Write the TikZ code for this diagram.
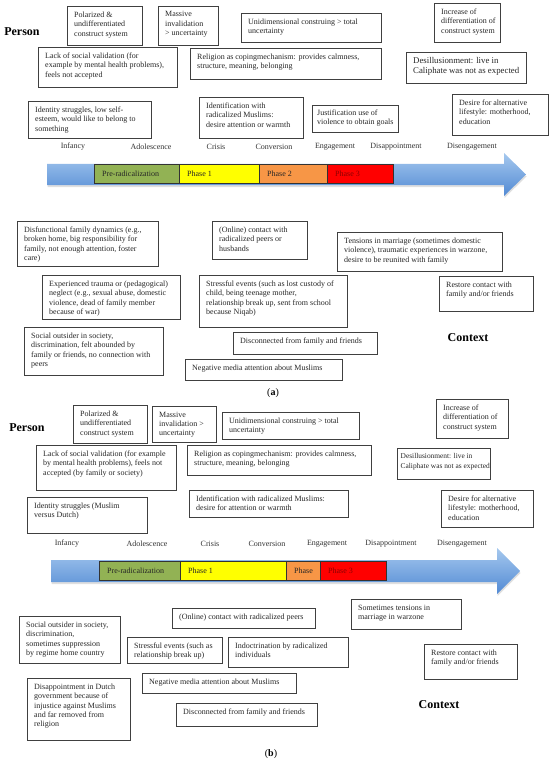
\documentclass[tikz,border=0pt]{standalone}
\usepackage{fontspec}
\setmainfont{Liberation Serif}
\usepackage{xcolor}
\usepackage{tikz}
\usetikzlibrary{shadows}

\definecolor{arrowtop}{RGB}{165,200,238}
\definecolor{arrowbot}{RGB}{82,138,212}
\definecolor{preg}{RGB}{146,178,84}
\definecolor{ph1}{RGB}{255,255,0}
\definecolor{ph2}{RGB}{247,150,70}
\definecolor{ph3}{RGB}{255,0,0}
\definecolor{ph3text}{RGB}{140,0,0}

\begin{document}
\begin{tikzpicture}[x=1pt,y=-1pt,
  cbox/.style={draw=black!75, line width=0.6pt, anchor=north west, inner sep=0pt},
  ctext/.style={anchor=north west, align=left, inner sep=0pt, xshift=7pt, yshift=-5.5pt,
    text=black!85, font=\fontsize{8}{9.4}\selectfont},
  phase/.style={draw=black!80, line width=0.6pt, anchor=north west, inner sep=0pt,
    minimum height=19pt},
  ptext/.style={anchor=west, inner sep=0pt, xshift=8pt, text=black!85,
    font=\fontsize{8}{9.4}\selectfont},
  stage/.style={text=black!80, font=\fontsize{8}{9.4}\selectfont},
  head/.style={font=\fontsize{12}{14}\selectfont\bfseries},
  captext/.style={font=\fontsize{10}{12}\selectfont},
  timeline/.style={top color=arrowtop, bottom color=arrowbot, draw=none,
    drop shadow={shadow xshift=0.5pt, shadow yshift=-2pt, opacity=0.25}}
]
\useasboundingbox (0,0) rectangle (550,762);

% (a)
\node[head] (persona) at (22,32) {Person};
\node[cbox, minimum width=75pt, minimum height=39pt, label={[ctext]north west:{Polarized \&\\undifferentiated\\construct system}}] (polar) at (67,6) {};
\node[cbox, minimum width=60pt, minimum height=39pt, label={[ctext]north west:{Massive\\invalidation\\> uncertainty}}] (massive) at (158,6) {};
\node[cbox, minimum width=140pt, minimum height=29pt, label={[ctext]north west:{Unidimensional construing > total\\uncertainty}}] (unidim) at (241,13) {};
\node[cbox, minimum width=139pt, minimum height=40pt, label={[ctext]north west:{Lack of social validation (for\\example by mental health problems),\\feels not accepted}}] (lack) at (38,47) {};
\node[cbox, minimum width=191pt, minimum height=31pt, label={[ctext]north west:{Religion as copingmechanism: provides calmness,\\structure, meaning, belonging}}] (relig) at (190,48) {};
\node[cbox, minimum width=123pt, minimum height=37pt, label={[ctext]north west:{Identity struggles, low self-\\esteem, would like to belong to\\something}}] (ident) at (28,101) {};
\node[cbox, minimum width=104pt, minimum height=41pt, label={[ctext]north west:{Identification with\\radicalized Muslims:\\desire attention or warmth}}] (identif) at (199,97) {};
\node[cbox, minimum width=86pt, minimum height=27pt, label={[ctext, xshift=-2pt, yshift=1pt]north west:{Justification use of\\violence to obtain goals}}] (justif) at (312,105) {};
\node[cbox, minimum width=66pt, minimum height=39pt, label={[ctext]north west:{Increase of\\differentiation of\\construct system}}] (incr) at (434,3) {};
\node[cbox, minimum width=120pt, minimum height=31pt, label={[ctext, font=\fontsize{8.8}{9.6}\selectfont]north west:{Desillusionment: live in\\Caliphate was not as expected}}] (desill) at (406,52) {};
\node[cbox, minimum width=96pt, minimum height=41pt, label={[ctext]north west:{Desire for alternative\\lifestyle: motherhood,\\education}}] (desire) at (452,94) {};

\node[stage] (infa) at (73,147) {Infancy};
\node[stage] (adola) at (151,147) {Adolescence};
\node[stage] (crisa) at (216,147) {Crisis};
\node[stage] (conva) at (274,147) {Conversion};
\node[stage] (enga) at (335,147) {Engagement};
\node[stage] (disapa) at (396,147) {Disappointment};
\node[stage] (disena) at (472,147) {Disengagement};

\path[timeline] (47,164) -- (504,164) -- (504,153) -- (526,174.5) -- (504,196) -- (504,185) -- (47,185) -- cycle;
\node[phase, fill=preg, minimum width=85pt, label={[ptext]west:Pre-radicalization}] (prea) at (94,164) {};
\node[phase, fill=ph1, minimum width=80pt, label={[ptext]west:Phase 1}] (ph1a) at (179,164) {};
\node[phase, fill=ph2, minimum width=68pt, label={[ptext]west:Phase 2}] (ph2a) at (259,164) {};
\node[phase, fill=ph3, minimum width=66pt, label={[ptext, text=ph3text]west:Phase 3}] (ph3a) at (327,164) {};

\node[cbox, minimum width=141pt, minimum height=45pt, label={[ctext]north west:{Disfunctional family dynamics (e.g.,\\broken home, big responsibility for\\family, not enough attention, foster\\care)}}] (disfun) at (17,221) {};
\node[cbox, minimum width=138pt, minimum height=44pt, label={[ctext]north west:{Experienced trauma or (pedagogical)\\neglect (e.g., sexual abuse, domestic\\violence, dead of family member\\because of war)}}] (trauma) at (42,275) {};
\node[cbox, minimum width=139pt, minimum height=48pt, label={[ctext]north west:{Social outsider in society,\\discrimination, felt abounded by\\family or friends, no connection with\\peers}}] (outsider) at (24,327) {};
\node[cbox, minimum width=95pt, minimum height=38pt, label={[ctext]north west:{(Online) contact with\\radicalized peers or\\husbands}}] (online) at (212,221) {};
\node[cbox, minimum width=148pt, minimum height=52pt, label={[ctext]north west:{Stressful events (such as lost custody of\\child, being teenage mother,\\relationship break up, sent from school\\because Niqab)}}] (stress) at (199,275) {};
\node[cbox, minimum width=144pt, minimum height=22pt, label={[ctext]north west:{Disconnected from family and friends}}] (disconn) at (233,332) {};
\node[cbox, minimum width=157pt, minimum height=21pt, label={[ctext]north west:{Negative media attention about Muslims}}] (negmed) at (185,359) {};
\node[cbox, minimum width=165pt, minimum height=39pt, label={[ctext]north west:{Tensions in marriage (sometimes domestic\\violence), traumatic experiences in warzone,\\desire to be reunited with family}}] (tens) at (337,232) {};
\node[cbox, minimum width=94pt, minimum height=35pt, label={[ctext]north west:{Restore contact with\\family and/or friends}}] (restore) at (439,276) {};
\node[head] (contexta) at (468,338) {Context};
\node[captext] (capa) at (273,393) {(\textbf{a})};

% (b)
\node[head] (personb) at (27,428) {Person};
\node[cbox, minimum width=74pt, minimum height=38pt, label={[ctext]north west:{Polarized \&\\undifferentiated\\construct system}}] (polarb) at (73,405) {};
\node[cbox, minimum width=64pt, minimum height=36pt, label={[ctext]north west:{Massive\\invalidation >\\uncertainty}}] (massiveb) at (152,406) {};
\node[cbox, minimum width=137pt, minimum height=27pt, label={[ctext]north west:{Unidimensional construing > total\\uncertainty}}] (unidimb) at (222,412) {};
\node[cbox, minimum width=140pt, minimum height=45pt, label={[ctext]north west:{Lack of social validation (for example\\by mental health problems), feels not\\accepted (by family or society)}}] (lackb) at (36,445) {};
\node[cbox, minimum width=184pt, minimum height=30pt, label={[ctext]north west:{Religion as copingmechanism: provides calmness,\\structure, meaning, belonging}}] (religb) at (187,445) {};
\node[cbox, minimum width=120pt, minimum height=36pt, label={[ctext]north west:{Identity struggles (Muslim\\versus Dutch)}}] (identb) at (27,497) {};
\node[cbox, minimum width=159pt, minimum height=27pt, label={[ctext]north west:{Identification with radicalized Muslims:\\desire for attention or warmth}}] (identifb) at (189,490) {};
\node[cbox, minimum width=72pt, minimum height=39pt, label={[ctext]north west:{Increase of\\differentiation of\\construct system}}] (incrb) at (436,399) {};
\node[cbox, minimum width=93pt, minimum height=31pt, label={[ctext, xshift=-3.5pt, font=\fontsize{7.4}{9.2}\selectfont]north west:{Desillusionment: live in\\Caliphate was not as expected}}] (desillb) at (397,448) {};
\node[cbox, minimum width=92pt, minimum height=37pt, label={[ctext]north west:{Desire for alternative\\lifestyle: motherhood,\\education}}] (desireb) at (441,490) {};

\node[stage] (infb) at (67,544) {Infancy};
\node[stage] (adolb) at (147,544) {Adolescence};
\node[stage] (crisb) at (210,544) {Crisis};
\node[stage] (convb) at (267,544) {Conversion};
\node[stage] (engb) at (327,544) {Engagement};
\node[stage] (disapb) at (391,544) {Disappointment};
\node[stage] (disenb) at (462,544) {Disengagement};

\path[timeline] (51,560) -- (497,560) -- (497,548) -- (520,571) -- (497,594) -- (497,582) -- (51,582) -- cycle;
\node[phase, fill=preg, minimum width=81pt, label={[ptext]west:Pre-radicalization}] (preb) at (99,561) {};
\node[phase, fill=ph1, minimum width=106pt, label={[ptext]west:Phase 1}] (ph1b) at (180,561) {};
\node[phase, fill=ph2, minimum width=34pt, label={[ptext]west:Phase}] (ph2b) at (286,561) {};
\node[phase, fill=ph3, minimum width=66pt, label={[ptext, text=ph3text]west:Phase 3}] (ph3b) at (320,561) {};

\node[cbox, minimum width=101pt, minimum height=47pt, label={[ctext]north west:{Social outsider in society,\\discrimination,\\sometimes suppression\\by regime home country}}] (outsiderb) at (19,616) {};
\node[cbox, minimum width=103pt, minimum height=62pt, label={[ctext]north west:{Disappointment in Dutch\\government because of\\injustice against Muslims\\and far removed from\\religion}}] (disappb) at (27,678) {};
\node[cbox, minimum width=143pt, minimum height=20pt, label={[ctext]north west:{(Online) contact with radicalized peers}}] (onlineb) at (172,608) {};
\node[cbox, minimum width=95pt, minimum height=26pt, label={[ctext]north west:{Stressful events (such as\\relationship break up)}}] (stressb) at (127,637) {};
\node[cbox, minimum width=120pt, minimum height=30pt, label={[ctext]north west:{Indoctrination by radicalized\\individuals}}] (indoc) at (228,637) {};
\node[cbox, minimum width=154pt, minimum height=20pt, label={[ctext]north west:{Negative media attention about Muslims}}] (negmedb) at (142,673) {};
\node[cbox, minimum width=141pt, minimum height=23pt, label={[ctext]north west:{Disconnected from family and friends}}] (disconnb) at (176,703) {};
\node[cbox, minimum width=110pt, minimum height=30pt, label={[ctext]north west:{Sometimes tensions in\\marriage in warzone}}] (tensb) at (351,599) {};
\node[cbox, minimum width=93pt, minimum height=35pt, label={[ctext]north west:{Restore contact with\\family and/or friends}}] (restoreb) at (424,644) {};
\node[head] (contextb) at (439,705) {Context};
\node[captext] (capb) at (271,754) {(\textbf{b})};
\end{tikzpicture}
\end{document}
